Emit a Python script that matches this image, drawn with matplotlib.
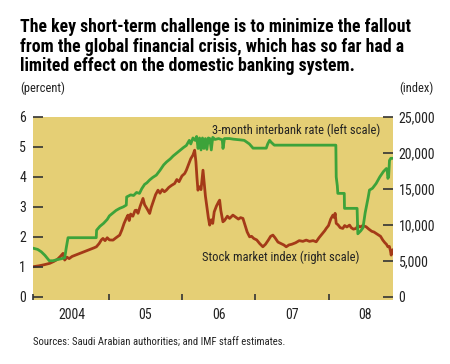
import numpy as np
import matplotlib
matplotlib.use("Agg")
import matplotlib.pyplot as plt

plt.rcParams['font.family'] = ['Roboto Condensed', 'Liberation Sans', 'DejaVu Sans']

# 3-month interbank rate, percent (left scale); x in decimal years
rate_t = [2003.967, 2004.03, 2004.08, 2004.13, 2004.19, 2004.24, 2004.30, 2004.36, 2004.40,
          2004.42, 2004.445, 2004.60, 2004.83, 2004.835, 2004.88, 2004.93, 2004.98, 2005.01,
          2005.06, 2005.10, 2005.15, 2005.20, 2005.24, 2005.245, 2005.30, 2005.34, 2005.38,
          2005.42, 2005.45, 2005.49, 2005.52, 2005.56, 2005.60, 2005.65, 2005.70, 2005.75,
          2005.79, 2005.84, 2005.88, 2005.92, 2005.97, 2006.02, 2006.06, 2006.10, 2006.12,
          2006.15, 2006.18, 2006.20, 2006.22, 2006.24, 2006.26, 2006.28, 2006.30, 2006.32,
          2006.34, 2006.36, 2006.38, 2006.40, 2006.42, 2006.45, 2006.50, 2006.55, 2006.56,
          2006.58, 2006.65, 2006.70, 2006.78, 2006.85, 2006.92, 2006.97, 2007.05, 2007.15,
          2007.17, 2007.196, 2007.22, 2007.26, 2007.30, 2007.50, 2007.80, 2008.10, 2008.105,
          2008.12, 2008.127, 2008.215, 2008.218, 2008.39, 2008.40, 2008.44, 2008.47, 2008.50,
          2008.54, 2008.559, 2008.60, 2008.65, 2008.70, 2008.75, 2008.79, 2008.80, 2008.81,
          2008.82, 2008.832, 2008.85, 2008.877]
rate_v = [1.62, 1.58, 1.50, 1.38, 1.20, 1.20, 1.24, 1.27, 1.30,
          1.62, 1.97, 1.97, 1.97, 2.22, 2.35, 2.45, 2.58, 2.70,
          2.80, 2.88, 2.95, 3.00, 3.06, 3.33, 3.40, 3.38, 3.48,
          3.45, 3.60, 3.75, 3.80, 3.90, 3.98, 4.06, 4.22, 4.40,
          4.50, 4.60, 4.70, 4.78, 4.88, 4.98, 5.05, 5.22, 5.10,
          5.30, 5.22, 5.35, 4.95, 5.30, 4.90, 5.30, 4.95, 5.28,
          4.92, 5.30, 5.28, 4.90, 5.32, 5.25, 5.28, 5.24, 4.95,
          5.28, 5.28, 5.26, 5.24, 5.22, 5.10, 4.96, 4.96, 4.96,
          5.10, 5.22, 5.15, 5.06, 5.06, 5.06, 5.06, 5.06, 4.00,
          3.70, 3.45, 3.45, 2.95, 2.95, 2.10, 2.20, 2.30, 2.80,
          3.30, 3.56, 3.62, 3.78, 4.00, 4.18, 4.28, 4.25, 3.95,
          4.00, 4.55, 4.62, 4.62]

# Stock market index (right scale)
stock_t = [2003.967, 2004.05, 2004.12, 2004.195, 2004.25, 2004.30, 2004.34, 2004.377, 2004.39,
           2004.40, 2004.43, 2004.46, 2004.50, 2004.55, 2004.604, 2004.65, 2004.70, 2004.75,
           2004.80, 2004.832, 2004.87, 2004.90, 2004.922, 2004.95, 2004.98, 2005.01, 2005.059,
           2005.10, 2005.15, 2005.18, 2005.21, 2005.24, 2005.263, 2005.28, 2005.30, 2005.33,
           2005.36, 2005.378, 2005.40, 2005.43, 2005.468, 2005.49, 2005.52, 2005.559, 2005.58,
           2005.61, 2005.64, 2005.673, 2005.70, 2005.73, 2005.76, 2005.787, 2005.82, 2005.86,
           2005.90, 2005.93, 2005.96, 2006.00, 2006.037, 2006.06, 2006.09, 2006.12, 2006.15,
           2006.173, 2006.19, 2006.205, 2006.218, 2006.24, 2006.26, 2006.287, 2006.30, 2006.32,
           2006.34, 2006.36, 2006.378, 2006.40, 2006.42, 2006.44, 2006.47, 2006.50, 2006.514,
           2006.53, 2006.559, 2006.58, 2006.62, 2006.65, 2006.695, 2006.73, 2006.77, 2006.80,
           2006.832, 2006.86, 2006.89, 2006.923, 2006.95, 2006.98, 2007.02, 2007.06, 2007.104,
           2007.14, 2007.18, 2007.21, 2007.241, 2007.27, 2007.31, 2007.35, 2007.39, 2007.423,
           2007.46, 2007.50, 2007.55, 2007.60, 2007.65, 2007.696, 2007.74, 2007.79, 2007.832,
           2007.87, 2007.91, 2007.95, 2007.969, 2008.00, 2008.03, 2008.06, 2008.08, 2008.09,
           2008.105, 2008.13, 2008.16, 2008.195, 2008.22, 2008.25, 2008.287, 2008.31, 2008.34,
           2008.378, 2008.40, 2008.43, 2008.47, 2008.514, 2008.55, 2008.59, 2008.62, 2008.65,
           2008.68, 2008.71, 2008.741, 2008.77, 2008.79, 2008.81, 2008.83, 2008.845, 2008.855,
           2008.865, 2008.877]
stock_v = [4170, 4300, 4450, 4640, 4900, 5200, 5600, 6030, 5400,
           5100, 5500, 5300, 5600, 5800, 6030, 6200, 6400, 6600,
           6800, 6945, 7400, 7900, 8110, 7800, 8200, 7900, 7875,
           8200, 8570, 9300, 10200, 10900, 11350, 10600, 11500, 11200,
           12000, 12040, 11600, 12600, 13670, 12800, 12300, 11580, 12400,
           13300, 14200, 14820, 14400, 14900, 14600, 14820, 15200, 15500,
           15750, 16300, 16000, 16800, 17140, 17600, 18400, 19200, 19700,
           20380, 18800, 16500, 14820, 15300, 14900, 17600, 16200, 14000,
           12500, 11000, 9960, 10700, 10200, 11800, 12600, 13200, 13430,
           12000, 10420, 10600, 11200, 10890, 11350, 11100, 10800, 11000,
           10890, 10000, 9000, 8330, 8400, 8100, 7900, 7400, 6945,
           7300, 7900, 8400, 8570, 8200, 7600, 7400, 7200, 6945,
           7200, 7300, 7500, 7800, 7700, 7875, 7700, 7800, 7640,
           8200, 8700, 9200, 9500, 9900, 10800, 11350, 11000, 11600,
           10200, 10000, 9600, 9500, 9900, 9700, 9960, 9600, 9400,
           9500, 9900, 9700, 9900, 9720, 9400, 9100, 9000, 8800,
           8600, 8400, 7875, 7500, 7300, 6945, 7000, 6400, 5790,
           6200, 6490]

year_edges = [2003.967, 2005, 2006, 2007, 2008]
year_mids = [2004.5, 2005.5, 2006.5, 2007.5, 2008.5]
year_labels = ['2004', '05', '06', '07', '08']

bg = '#E5CF75'
green = '#3DA33A'
brown = '#A43A18'
tickc = '#333333'
txtc = '#222222'

fig = plt.figure(figsize=(4.5, 3.64), dpi=100)
ax2 = fig.add_axes([33/450, 1-300/364, 360/450, 183/364])
ax2.set_facecolor(bg)
ax = ax2.twinx()  # left-scale axes drawn on top
ax.yaxis.tick_left()
ax2.yaxis.tick_right()

ax2.plot(stock_t, stock_v, color=brown, lw=2.0, solid_joinstyle='round')
ax.plot(rate_t, rate_v, color=green, lw=2.0)

ax.set_xlim(2003.967, 2008.88)
ax.set_ylim(-0.11, 6)
ax2.set_ylim(-0.11*25000/6, 25000)

for a in (ax, ax2):
    for s in a.spines.values():
        s.set_visible(False)

ax.set_yticks(range(0, 7))
ax.tick_params(axis='y', direction='in', length=7, width=1.2, color=tickc,
               labelsize=10, pad=5, labelcolor=txtc)
ax2.set_yticks(range(0, 25001, 5000))
ax2.set_yticklabels(['0', '5,000', '10,000', '15,000', '20,000', '25,000'])
ax2.tick_params(axis='y', direction='in', length=7, width=1.2, color=tickc,
                labelsize=10, pad=4, labelcolor=txtc)

ax2.set_xticks(year_edges)
ax2.set_xticklabels([])
ax2.set_xticks(year_mids, minor=True)
ax2.set_xticklabels(year_labels, minor=True)
ax2.tick_params(axis='x', which='major', direction='in', length=4, width=1.2, color=tickc)
ax2.tick_params(axis='x', which='minor', length=0, labelsize=10, pad=6, labelcolor=txtc)

ax.text(2006.41, 5.55, '3-month interbank rate (left scale)', fontsize=9,
        color=txtc, va='center', ha='left')
ax.text(2006.28, 1.3, 'Stock market index (right scale)', fontsize=9,
        color=txtc, va='center', ha='left')

fig.text(20/450, 1-18/364,
         'The key short-term challenge is to minimize the fallout\n'
         'from the global financial crisis, which has so far had a\n'
         'limited effect on the domestic banking system.',
         fontsize=12.8, fontweight='bold', va='top', ha='left',
         linespacing=1.12, color='black')
fig.text(20/450, 1-88/364, '(percent)', fontsize=9, va='center', ha='left', color=txtc)
fig.text(434/450, 1-88/364, '(index)', fontsize=9, va='center', ha='right', color=txtc)
fig.text(33/450, 1-343/364, 'Sources: Saudi Arabian authorities; and IMF staff estimates.',
         fontsize=7.7, va='center', ha='left', color=txtc)

fig.savefig('out.png', dpi=100, facecolor='white')
